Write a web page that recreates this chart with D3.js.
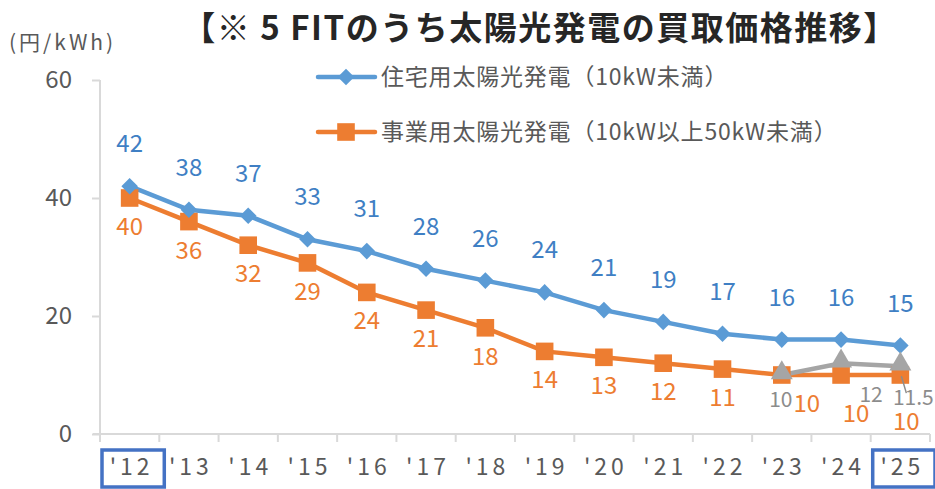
<!DOCTYPE html>
<html><head><meta charset="utf-8">
<script src="https://cdn.jsdelivr.net/npm/d3@7"></script>
<style>
html,body{margin:0;padding:0;background:#fff;}
svg{display:block;font-family:"Noto Sans CJK JP","Noto Sans",sans-serif;}
</style></head>
<body><svg id="chart" width="935" height="489"></svg>
<script>
// FIT purchase prices for solar power (yen/kWh)
const years = ["'12","'13","'14","'15","'16","'17","'18","'19","'20","'21","'22","'23","'24","'25"];
const residential = [42,38,37,33,31,28,26,24,21,19,17,16,16,15];
const commercial = [40,36,32,29,24,21,18,14,13,12,11,10,10,10];
const rooftopYears = ["'23","'24","'25"];
const rooftop = [10,12,11.5];
const yTicks = [0,20,40,60];
const boxedYears = ["'12","'25"];

const svg = d3.select("#chart");
const blue = "#5B9BD5", orange = "#ED7D31", grey = "#A5A5A5";
const blueText = "#3F7FC4", axisText = "#595959", axisLine = "#D9D9D9";

const x = d3.scaleBand().domain(years).range([100, 930]);
const y = d3.scaleLinear().domain([0, 60]).range([434, 80]);
const cx = d => x(d) + x.bandwidth() / 2;

// title
svg.append("text").attr("x", 540).attr("y", 40).attr("text-anchor", "middle")
  .attr("font-size", 33).attr("font-weight", 700).attr("fill", "#262626")
  .attr("letter-spacing", 1.5)
  .text("【※ 5 FITのうち太陽光発電の買取価格推移】");

// unit label
svg.append("text").attr("x", 9).attr("y", 50).attr("font-size", 21).attr("fill", axisText)
  .attr("letter-spacing", 3).text("(円/kWh)");

// y axis
const yAxis = svg.append("g").attr("transform", "translate(100,0)")
  .call(d3.axisLeft(y).tickValues(yTicks).tickSize(8).tickPadding(20));
yAxis.select(".domain").attr("stroke", axisLine).attr("stroke-width", 2).attr("d", "M0,80V434");
yAxis.selectAll(".tick line").attr("stroke", axisLine).attr("stroke-width", 2);
yAxis.selectAll(".tick text").attr("font-size", 24).attr("fill", axisText)
  .attr("font-family", "'Noto Sans CJK JP',sans-serif");

// x axis with tick marks on category boundaries
const xg = svg.append("g").attr("transform", "translate(0,434)");
xg.append("line").attr("x1", 93).attr("x2", 930).attr("stroke", axisLine).attr("stroke-width", 2);
years.concat(["end"]).forEach((d, i) => {
  const xx = i < years.length ? x(d) : x(years[years.length - 1]) + x.bandwidth();
  xg.append("line").attr("x1", xx).attr("x2", xx).attr("y1", 0).attr("y2", 8)
    .attr("stroke", axisLine).attr("stroke-width", 2);
});
xg.selectAll("text.xl").data(years).enter().append("text").attr("class", "xl")
  .attr("x", d => cx(d) + 2).attr("y", 41).attr("text-anchor", "middle")
  .attr("font-size", 23).attr("letter-spacing", 4).attr("fill", axisText).text(d => d);

// highlight boxes for first and last year
svg.selectAll("rect.hl").data(boxedYears).enter().append("rect").attr("class", "hl")
  .attr("x", d => x(d) + 2).attr("y", 450).attr("width", x.bandwidth() + 3).attr("height", 37)
  .attr("fill", "none").attr("stroke", "#4472C4").attr("stroke-width", 3.5);

const line = d3.line().x(d => cx(d[0])).y(d => y(d[1]));

// series lines
svg.append("path").datum(years.map((d, i) => [d, commercial[i]])).attr("d", line)
  .attr("fill", "none").attr("stroke", orange).attr("stroke-width", 4.5);
svg.append("path").datum(years.map((d, i) => [d, residential[i]])).attr("d", line)
  .attr("fill", "none").attr("stroke", blue).attr("stroke-width", 4.5);
svg.append("path").datum(rooftopYears.map((d, i) => [d, rooftop[i]])).attr("d", line)
  .attr("fill", "none").attr("stroke", grey).attr("stroke-width", 4.5);

// markers
const diamond = d3.symbol().type(d3.symbolDiamond2).size(175);
const square = d3.symbol().type(d3.symbolSquare).size(310);
const tri = d3.symbol().type(d3.symbolTriangle).size(210);
svg.selectAll("path.sq").data(years).enter().append("path").attr("class", "sq")
  .attr("d", square).attr("fill", orange)
  .attr("transform", (d, i) => `translate(${cx(d)},${y(commercial[i])})`);
svg.selectAll("path.dm").data(years).enter().append("path").attr("class", "dm")
  .attr("d", diamond).attr("fill", blue)
  .attr("transform", (d, i) => `translate(${cx(d)},${y(residential[i])})`);
svg.selectAll("path.tr").data(rooftopYears).enter().append("path").attr("class", "tr")
  .attr("d", tri).attr("fill", grey)
  .attr("transform", (d, i) => `translate(${cx(d)},${y(rooftop[i]) - 2})`);

// value labels
svg.selectAll("text.bl").data(years).enter().append("text").attr("class", "bl")
  .attr("x", d => cx(d)).attr("y", (d, i) => y(residential[i]) - 34)
  .attr("text-anchor", "middle").attr("font-size", 24).attr("fill", blueText)
  .text((d, i) => residential[i]);

const orangeOffset = { "'23": [25, 37], "'24": [15, 47], "'25": [6, 55] };
svg.selectAll("text.ol").data(years).enter().append("text").attr("class", "ol")
  .attr("x", d => cx(d) + (orangeOffset[d] ? orangeOffset[d][0] : 0))
  .attr("y", (d, i) => y(commercial[i]) + (orangeOffset[d] ? orangeOffset[d][1] : 37))
  .attr("text-anchor", "middle").attr("font-size", 24).attr("fill", orange)
  .text((d, i) => commercial[i]);

const greyOffset = [[-1, 32], [30, 39], [13, 39]];
svg.selectAll("text.gl").data(rooftopYears).enter().append("text").attr("class", "gl")
  .attr("x", (d, i) => cx(d) + greyOffset[i][0])
  .attr("y", (d, i) => y(rooftop[i]) + greyOffset[i][1])
  .attr("text-anchor", "middle").attr("font-size", 21).attr("fill", "#8C8C8C")
  .text((d, i) => rooftop[i]);
// leader line for the last grey label
svg.append("line").attr("x1", cx("'25") + 1).attr("y1", y(11.5) + 10)
  .attr("x2", cx("'25") + 6).attr("y2", y(11.5) + 27).attr("stroke", "#8C8C8C").attr("stroke-width", 1.5);

// legend
const legend = [["住宅用太陽光発電（10kW未満）", blue, diamond, 77], ["事業用太陽光発電（10kW以上50kW未満）", orange, square, 132]];
legend.forEach(([label, color, sym, ly]) => {
  svg.append("line").attr("x1", 318).attr("x2", 375).attr("y1", ly).attr("y2", ly)
    .attr("stroke", color).attr("stroke-width", 4.5).attr("stroke-linecap", "round");
  svg.append("path").attr("d", sym).attr("fill", color).attr("transform", `translate(346,${ly})`);
  svg.append("text").attr("x", 381).attr("y", ly + 8).attr("font-size", 23).attr("fill", axisText)
    .attr("letter-spacing", 0.8).text(label);
});
</script></body></html>
